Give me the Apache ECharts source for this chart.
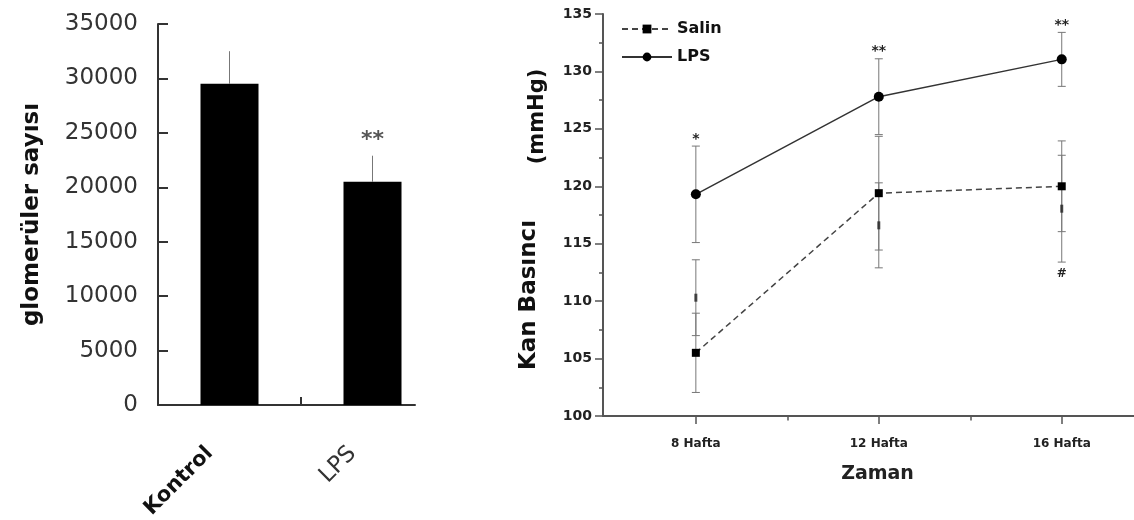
<!DOCTYPE html>
<html><head><meta charset="utf-8">
<script src="https://cdn.jsdelivr.net/npm/echarts@6/dist/echarts.min.js"></script>
<style>html,body{margin:0;padding:0;background:#fff}#c{width:1134px;height:520px}</style>
</head><body><div id="c"></div>
<script>
// ---- left panel: bar chart ----
const barCategories = ['Kontrol', 'LPS'];
const barValues = [29500, 20500];
const barErrors = [3000, 2400];
const barSig = ['', '**'];

// ---- right panel: line chart ----
const weeks = [8, 12, 16];
const weekLabels = ['8 Hafta', '12 Hafta', '16 Hafta'];
const minorWeeks = [10, 14];
const salinValues = [105.5, 119.4, 120.0];
const salinErrors = [3.45, 4.95, 3.95];
const lpsValues = [119.3, 127.8, 131.05];
const lpsErrors = [4.2, 3.3, 2.35];
const hiddenValues = [110.3, 116.6, 118.05];
const hiddenErrors = [3.3, 3.7, 4.65];
const lpsSig = ['*', '**', '**'];
const hiddenSig = ['', '', '#'];

const FONT = 'DejaVu Sans';
const chart = echarts.init(document.getElementById('c'));

function errBars(capHalf, color) {
  return function (params, api) {
    const x = api.value(0), lo = api.value(1), hi = api.value(2);
    const a = api.coord([x, hi]), b = api.coord([x, lo]);
    const st = { stroke: color, lineWidth: 1 };
    const kids = [{ type: 'line', shape: { x1: a[0], y1: a[1], x2: b[0], y2: b[1] }, style: st }];
    if (capHalf > 0) {
      kids.push({ type: 'line', shape: { x1: a[0] - capHalf, y1: a[1], x2: a[0] + capHalf, y2: a[1] }, style: st });
      kids.push({ type: 'line', shape: { x1: b[0] - capHalf, y1: b[1], x2: b[0] + capHalf, y2: b[1] }, style: st });
    }
    return { type: 'group', children: kids };
  };
}
function sigText(labels, dy, font, color) {
  return function (params, api) {
    const p = api.coord([api.value(0), api.value(1)]);
    return { type: 'text', style: { text: labels[params.dataIndex], x: p[0], y: p[1] + dy,
      align: 'center', verticalAlign: 'middle', font: font, fill: color } };
  };
}

const option = {
  animation: false,
  backgroundColor: '#fff',
  grid: [
    { left: 158, top: 24, width: 286, height: 381, outerBoundsMode: 'none' },
    { left: 158, top: 24, width: 257, height: 381, outerBoundsMode: 'none' },
    { left: 603, top: 14, right: 0, height: 402, outerBoundsMode: 'none' },
    { left: 603, top: 14, right: 0, height: 402, outerBoundsMode: 'none' }
  ],
  legend: {
    data: ['Salin', 'LPS'], orient: 'vertical', left: 621, top: 21, padding: 0,
    itemWidth: 50, itemHeight: 11, itemGap: 12,
    textStyle: { fontFamily: FONT, fontWeight: 'bold', fontSize: 16, color: '#111' }
  },
  xAxis: [
    { gridIndex: 0, type: 'category', data: barCategories,
      axisLine: { show: false }, axisTick: { show: false }, splitLine: { show: false },
      axisLabel: { rotate: 45, margin: 48, interval: 0, padding: [0, 12, 32, 0],
        formatter: function (v) { return v === barCategories[0] ? '{k|' + v + '}' : '{l|' + v + '}'; },
        rich: { k: { fontFamily: FONT, fontWeight: 'bold', fontSize: 21, color: '#111' },
                l: { fontFamily: FONT, fontSize: 23, color: '#333' } } } },
    { gridIndex: 1, type: 'value', min: 0, max: 1.797,
      axisLine: { show: true, lineStyle: { color: '#333', width: 2 } },
      axisTick: { show: true, inside: true, length: 8, customValues: [1], lineStyle: { color: '#333', width: 2 } },
      axisLabel: { show: false }, splitLine: { show: false } },
    { gridIndex: 2, type: 'value', min: 5.97, max: 17.58,
      axisLine: { show: true, lineStyle: { color: '#555', width: 2 } },
      axisTick: { show: true, length: 8, customValues: weeks, lineStyle: { color: '#555', width: 1.5 } },
      axisLabel: { customValues: weeks, margin: 22,
        formatter: function (v) { return weekLabels[weeks.indexOf(v)]; },
        fontFamily: FONT, fontWeight: 'bold', fontSize: 12, color: '#222' },
      splitLine: { show: false },
      name: 'Zaman', nameLocation: 'middle', nameGap: 49,
      nameTextStyle: { fontFamily: FONT, fontWeight: 'bold', fontSize: 19, color: '#222', padding: [0, 0, 0, 18] } },
    { gridIndex: 3, type: 'value', min: 5.97, max: 17.58,
      axisLine: { show: false },
      axisTick: { show: true, length: 4.5, customValues: minorWeeks, lineStyle: { color: '#555', width: 1.5 } },
      axisLabel: { show: false }, splitLine: { show: false } }
  ],
  yAxis: [
    { gridIndex: 0, type: 'value', min: 0, max: 35000, interval: 5000,
      axisLine: { show: true, lineStyle: { color: '#333', width: 2 } },
      axisTick: { show: true, inside: true, length: 10, lineStyle: { color: '#333', width: 2 } },
      axisLabel: { fontFamily: FONT, fontSize: 23, color: '#333', margin: 20,
        formatter: function (v) { return String(v); } },
      splitLine: { show: false },
      name: 'glomerüler sayısı', nameLocation: 'middle', nameGap: 114,
      nameTextStyle: { fontFamily: FONT, fontWeight: 'bold', fontSize: 23, color: '#111' } },
    { gridIndex: 1, type: 'value', show: false, min: 0, max: 1 },
    { gridIndex: 2, type: 'value', min: 100, max: 135, interval: 5,
      axisLine: { show: true, lineStyle: { color: '#555', width: 2 } },
      axisTick: { show: true, length: 8, lineStyle: { color: '#555', width: 1.5 } },
      minorTick: { show: true, splitNumber: 2, length: 4, lineStyle: { color: '#555', width: 1.5 } },
      axisLabel: { fontFamily: FONT, fontWeight: 'bold', fontSize: 14, color: '#222', margin: 11 },
      splitLine: { show: false },
      name: 'Kan Basıncı', nameLocation: 'middle', nameGap: 62,
      nameTextStyle: { fontFamily: FONT, fontWeight: 'bold', fontSize: 23, color: '#111', padding: [0, 160, 0, 0] } },
    { gridIndex: 3, type: 'value', min: 0, max: 1,
      axisLine: { show: false }, axisTick: { show: false }, axisLabel: { show: false }, splitLine: { show: false },
      name: '(mmHg)', nameLocation: 'middle', nameGap: 55,
      nameTextStyle: { fontFamily: FONT, fontWeight: 'bold', fontSize: 21, color: '#111', padding: [0, 0, 0, 197] } }
  ],
  series: [
    { type: 'bar', name: 'bars', xAxisIndex: 0, yAxisIndex: 0, data: barValues, barWidth: 58,
      itemStyle: { color: '#000' }, z: 2 },
    { type: 'custom', xAxisIndex: 0, yAxisIndex: 0, z: 3,
      data: barCategories.map(function (c, i) { return [i, barValues[i], barValues[i] + barErrors[i]]; }),
      renderItem: errBars(0, '#777') },
    { type: 'custom', xAxisIndex: 0, yAxisIndex: 0, z: 3,
      data: barCategories.map(function (c, i) { return [i, barValues[i] + barErrors[i]]; }),
      renderItem: sigText(barSig, -15, 'bold 22px "DejaVu Sans"', '#555') },

    { type: 'custom', xAxisIndex: 2, yAxisIndex: 2, z: 1,
      data: weeks.map(function (w, i) { return [w, lpsValues[i] - lpsErrors[i], lpsValues[i] + lpsErrors[i]]; }),
      renderItem: errBars(4, '#777') },
    { type: 'custom', xAxisIndex: 2, yAxisIndex: 2, z: 1,
      data: weeks.map(function (w, i) { return [w, salinValues[i] - salinErrors[i], salinValues[i] + salinErrors[i]]; }),
      renderItem: errBars(4, '#777') },
    { type: 'custom', xAxisIndex: 2, yAxisIndex: 2, z: 1,
      data: weeks.map(function (w, i) { return [w, hiddenValues[i] - hiddenErrors[i], hiddenValues[i] + hiddenErrors[i]]; }),
      renderItem: errBars(4, '#777') },
    { type: 'scatter', xAxisIndex: 2, yAxisIndex: 2, z: 2, symbol: 'rect', symbolSize: [3, 8],
      itemStyle: { color: '#222' },
      data: weeks.map(function (w, i) { return [w, hiddenValues[i]]; }) },
    { type: 'line', name: 'Salin', xAxisIndex: 2, yAxisIndex: 2, z: 4,
      data: weeks.map(function (w, i) { return [w, salinValues[i]]; }),
      symbol: 'rect', symbolSize: 8, itemStyle: { color: '#000' },
      lineStyle: { color: '#444', width: 1.5, type: [6, 4] } },
    { type: 'line', name: 'LPS', xAxisIndex: 2, yAxisIndex: 2, z: 5,
      data: weeks.map(function (w, i) { return [w, lpsValues[i]]; }),
      symbol: 'circle', symbolSize: 10, itemStyle: { color: '#000' },
      lineStyle: { color: '#333', width: 1.5 } },
    { type: 'custom', xAxisIndex: 2, yAxisIndex: 2, z: 6,
      data: weeks.map(function (w, i) { return [w, lpsValues[i] + lpsErrors[i]]; }),
      renderItem: sigText(lpsSig, -7, 'bold 14px "DejaVu Sans"', '#222') },
    { type: 'custom', xAxisIndex: 2, yAxisIndex: 2, z: 6,
      data: weeks.map(function (w, i) { return [w, hiddenValues[i] - hiddenErrors[i]]; }),
      renderItem: sigText(hiddenSig, 12, 'bold 12px "DejaVu Sans"', '#222') }
  ]
};
chart.setOption(option);
</script>
</body></html>
